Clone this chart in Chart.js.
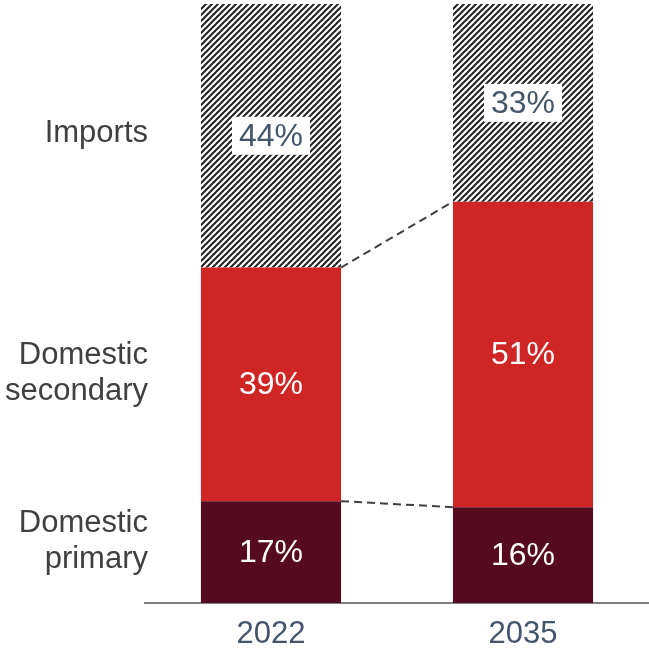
<!DOCTYPE html>
<html>
<head>
<meta charset="utf-8">
<script src="https://cdn.jsdelivr.net/npm/chart.js@4"></script>
<style>
  html, body { margin: 0; padding: 0; background: #fff; }
  #wrap { width: 649px; height: 648px; }
</style>
</head>
<body>
<div id="wrap"><canvas id="sourcing-chart"></canvas></div>
<script>
const years = ["2022", "2035"];
const domesticPrimary = [17, 16];
const domesticSecondary = [39, 51];
const imports = [44, 33];

// row captions on the left, anchored in % units on the y scale
const rowNames = [["Domestic", "primary"], ["Domestic", "secondary"], ["Imports"]];
const rowAnchors = [10.5, 38.5, 78.5];

const red = "#cf2525";
const maroon = "#560a20";
const slate = "#44546a";
const fontFamily = "'Liberation Sans', Arial, sans-serif";

let makeHatch = () => {
  const size = 6;
  const tile = document.createElement("canvas");
  tile.width = size;
  tile.height = size;
  const c = tile.getContext("2d");
  c.fillStyle = "#fff";
  c.fillRect(0, 0, size, size);
  c.strokeStyle = "#222";
  c.lineWidth = 2;
  c.beginPath();
  c.moveTo(-1, size + 1);
  c.lineTo(size + 1, -1);
  c.moveTo(-1, 1);
  c.lineTo(1, -1);
  c.moveTo(size - 1, size + 1);
  c.lineTo(size + 1, size - 1);
  c.stroke();
  return c.createPattern(tile, "repeat");
};

const ctx = document.querySelector("#sourcing-chart").getContext("2d");

// dashed links between the tops of matching segments
const connectors = {
  id: "connectors",
  afterDatasetsDraw(chart) {
    const c = chart.ctx;
    c.save();
    c.strokeStyle = "#404040";
    c.lineWidth = 2;
    c.setLineDash([8, 5]);
    [0, 1].forEach(di => {
      const bars = chart.getDatasetMeta(di).data;
      const a = bars[0], b = bars[1];
      c.beginPath();
      c.moveTo(a.x + a.width / 2, a.y);
      c.lineTo(b.x - b.width / 2, b.y);
      c.stroke();
    });
    c.restore();
  }
};

// percentage inside each segment; boxed on the hatched one
const segmentLabels = {
  id: "segmentLabels",
  afterDatasetsDraw(chart) {
    const c = chart.ctx;
    c.save();
    c.font = "32px " + fontFamily;
    c.textAlign = "center";
    c.textBaseline = "middle";
    chart.data.datasets.forEach((ds, di) => {
      chart.getDatasetMeta(di).data.forEach((bar, i) => {
        const text = ds.data[i] + "%";
        const y = (bar.y + bar.base) / 2;
        if (ds.boxed) {
          const w = c.measureText(text).width + 14;
          c.fillStyle = "#fff";
          c.fillRect(bar.x - w / 2, y - 19, w, 38);
          c.fillStyle = slate;
        } else {
          c.fillStyle = "#fff";
        }
        c.fillText(text, bar.x, y + 1);
      });
    });
    c.restore();
  }
};

// row captions, right-aligned just left of the plot
const rowCaptions = {
  id: "rowCaptions",
  afterDraw(chart) {
    const c = chart.ctx;
    const y = chart.scales.y;
    const right = chart.chartArea.left + 3;
    const lineGap = 36;
    c.save();
    c.font = "31px " + fontFamily;
    c.fillStyle = "#404040";
    c.textAlign = "right";
    c.textBaseline = "middle";
    rowNames.forEach((lines, i) => {
      const mid = y.getPixelForValue(rowAnchors[i]);
      const first = mid - (lines.length - 1) * lineGap / 2;
      lines.forEach((line, k) => c.fillText(line, right, first + k * lineGap + 1));
    });
    c.restore();
  }
};

new Chart(ctx, {
  type: "bar",
  data: {
    labels: years,
    datasets: [
      { label: "Domestic primary", data: domesticPrimary, backgroundColor: maroon },
      { label: "Domestic secondary", data: domesticSecondary, backgroundColor: red },
      { label: "Imports", data: imports, backgroundColor: makeHatch(), boxed: true }
    ]
  },
  options: {
    responsive: true,
    maintainAspectRatio: false,
    animation: false,
    layout: { padding: { top: 4, bottom: 0, right: 0, left: 145 } },
    datasets: { bar: { categoryPercentage: 1, barPercentage: 0.556 } },
    plugins: { legend: { display: false }, tooltip: { enabled: false } },
    scales: {
      x: {
        stacked: true,
        grid: { display: false, drawTicks: false },
        border: { display: true, color: "#7f7f7f", width: 2 },
        ticks: { color: slate, font: { size: 31, family: fontFamily, lineHeight: 1.1 }, padding: 14 },
        afterFit: scale => {
          scale.height = 45;
          scale.paddingLeft = 0;
          scale.paddingRight = 0;
        }
      },
      y: {
        display: false,
        stacked: true,
        min: 0,
        max: 100
      }
    }
  },
  plugins: [connectors, segmentLabels, rowCaptions]
});
</script>
</body>
</html>
